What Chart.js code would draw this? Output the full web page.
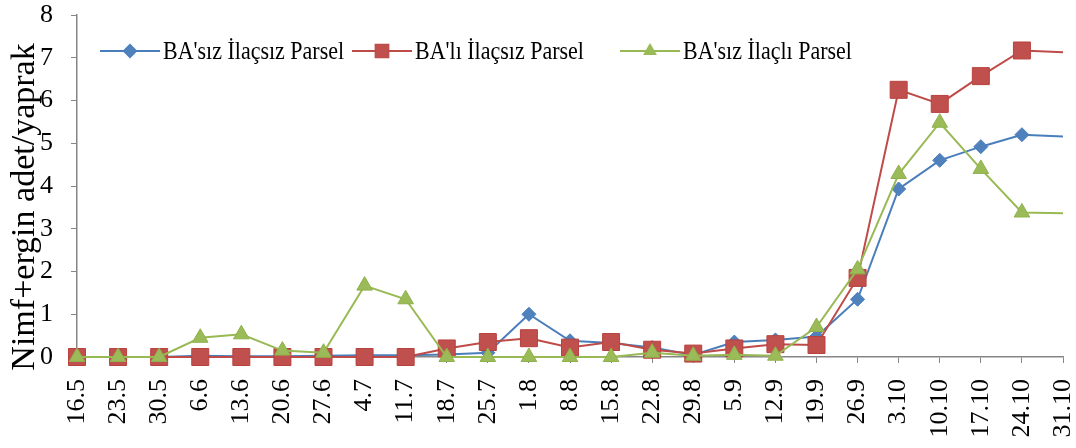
<!DOCTYPE html>
<html>
<head>
<meta charset="utf-8">
<script src="https://cdn.jsdelivr.net/npm/chart.js@4"></script>
<style>
  html, body { margin: 0; padding: 0; background: #fff; }
  #wrap { width: 1076px; height: 448px; position: relative; }
</style>
</head>
<body>
<div id="wrap"><canvas id="chart"></canvas></div>
<script>
// Dates of counts
var dates = ['16.5', '23.5', '30.5', '6.6', '13.6', '20.6', '27.6', '4.7', '11.7', '18.7', '25.7',
  '1.8', '8.8', '15.8', '22.8', '29.8', '5.9', '12.9', '19.9', '26.9', '3.10', '10.10', '17.10', '24.10', '31.10'];

// Nimf+ergin adet/yaprak
var basizIlacsiz = [0, 0, 0, 0.03, 0.02, 0.02, 0.03, 0.04, 0.04, 0.06, 0.1,
  1.0, 0.38, 0.33, 0.22, 0.05, 0.35, 0.4, 0.48, 1.35, 3.93, 4.6, 4.92, 5.2, 5.16];
var baliIlacsiz = [0, 0, 0, 0, 0, 0, 0, 0, 0, 0.2, 0.35,
  0.44, 0.22, 0.35, 0.17, 0.08, 0.2, 0.3, 0.28, 1.85, 6.25, 5.92, 6.57, 7.17, 7.13];
var basizIlacli = [0, 0, 0, 0.45, 0.53, 0.15, 0.1, 1.67, 1.35, 0, 0,
  0, 0, 0, 0.1, 0.03, 0.05, 0.03, 0.7, 2.05, 4.28, 5.48, 4.4, 3.38, 3.36];

var seriesNames = ["BA'sız İlaçsız Parsel", "BA'lı İlaçsız Parsel", "BA'sız İlaçlı Parsel"];
var yTicks = [0, 1, 2, 3, 4, 5, 6, 7, 8];
var yTitle = 'Nimf+ergin adet/yaprak';

var SERIF = '"Liberation Serif", "Times New Roman", serif';
var AXIS = '#868686';

// no marker on the last date (cut at the edge)
function radii(r) {
  return dates.map(function (d, i) { return i === dates.length - 1 ? 0 : r; });
}

// keep the plot area out to the edges like the original
function noPad(scale) {
  scale.paddingLeft = 0;
  scale.paddingRight = 0;
  scale.paddingTop = 0;
  scale.paddingBottom = 0;
}

// legend drawn inside plot, line + marker + text
var legendPlugin = {
  id: 'inLegend',
  afterDraw: function (chart) {
    var ctx = chart.ctx;
    var starts = [100, 352, 620];
    var y = 51;
    ctx.save();
    chart.data.datasets.forEach(function (ds, i) {
      var x = starts[i];
      ctx.strokeStyle = ds.borderColor;
      ctx.lineWidth = 2;
      ctx.beginPath();
      ctx.moveTo(x, y);
      ctx.lineTo(x + 60, y);
      ctx.stroke();
      Chart.helpers.drawPoint(ctx, {
        pointStyle: ds.pointStyle,
        radius: ds.legendRadius,
        borderWidth: 1
      }, x + 30, y);
      ctx.fillStyle = ds.pointBackgroundColor;
      ctx.strokeStyle = ds.pointBorderColor;
      ctx.fill();
      ctx.save();
      ctx.translate(x + 63, y);
      ctx.scale(0.88, 1);
      ctx.fillStyle = '#000';
      ctx.font = '25px ' + SERIF;
      ctx.textBaseline = 'middle';
      ctx.fillText(seriesNames[i], 0, 1);
      ctx.restore();
    });
    ctx.restore();
  }
};

// y axis title, placed as in the original
var yTitlePlugin = {
  id: 'yTitle',
  afterDraw: function (chart) {
    var ctx = chart.ctx;
    ctx.save();
    ctx.translate(34, 207);
    ctx.rotate(-Math.PI / 2);
    ctx.font = '34px ' + SERIF;
    ctx.fillStyle = '#000';
    ctx.textAlign = 'center';
    ctx.textBaseline = 'alphabetic';
    ctx.fillText(yTitle, 0, 0);
    ctx.restore();
  }
};

new Chart(document.getElementById('chart'), {
  type: 'line',
  data: {
    labels: dates,
    datasets: [{
      label: seriesNames[0],
      data: basizIlacsiz,
      borderColor: '#4A7EBB',
      pointBackgroundColor: '#4F81BD',
      pointBorderColor: '#4A7EBB',
      pointStyle: 'rectRot',
      pointRadius: radii(7),
      legendRadius: 6,
      order: 2
    }, {
      label: seriesNames[1],
      data: baliIlacsiz,
      borderColor: '#BE4B48',
      pointBackgroundColor: '#C0504D',
      pointBorderColor: '#B8413E',
      pointStyle: 'rect',
      pointRadius: radii(12),
      legendRadius: 9,
      order: 1
    }, {
      label: seriesNames[2],
      data: basizIlacli,
      borderColor: '#98B954',
      pointBackgroundColor: '#9BBB59',
      pointBorderColor: '#8FB04C',
      pointStyle: 'triangle',
      pointRadius: radii(9),
      legendRadius: 6,
      order: 0
    }]
  },
  options: {
    responsive: true,
    maintainAspectRatio: false,
    animation: false,
    clip: false,
    layout: { padding: { top: 15, right: 8, left: 22, bottom: 0 } },
    elements: {
      line: { borderWidth: 2, tension: 0 },
      point: { borderWidth: 1, hoverRadius: 8 }
    },
    plugins: {
      legend: { display: false },
      tooltip: { enabled: false }
    },
    scales: {
      x: {
        offset: false,
        grid: { display: true, drawOnChartArea: false, color: AXIS, tickLength: 6 },
        border: { color: AXIS, width: 1.5 },
        ticks: {
          autoSkip: false,
          maxRotation: 90,
          minRotation: 90,
          padding: 16,
          color: '#000',
          font: { family: SERIF, size: 26 }
        },
        afterFit: function (scale) {
          scale.height = 91;
          noPad(scale);
        },
        afterUpdate: noPad
      },
      y: {
        min: 0,
        max: 8,
        afterBuildTicks: function (scale) {
          scale.ticks = yTicks.map(function (v) { return { value: v }; });
        },
        grid: { display: true, drawOnChartArea: false, color: AXIS, tickLength: 6 },
        border: { color: AXIS, width: 1.5 },
        ticks: {
          padding: 18,
          color: '#000',
          font: { family: SERIF, size: 26 }
        },
        afterFit: noPad,
        afterUpdate: noPad
      }
    }
  },
  plugins: [legendPlugin, yTitlePlugin]
});
</script>
</body>
</html>
